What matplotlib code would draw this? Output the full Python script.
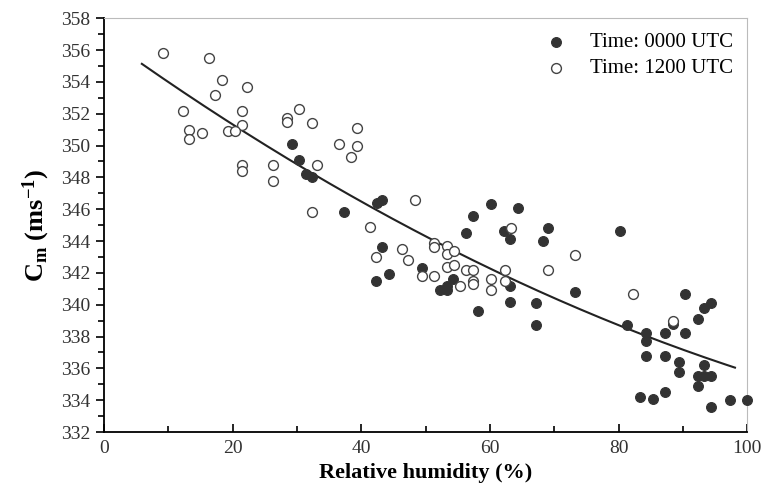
import matplotlib
matplotlib.use("Agg")
import matplotlib.pyplot as plt
import numpy as np

# 0000 UTC (filled)
rh_00 = [29.3, 30.4, 31.4, 32.4, 42.4, 43.3, 37.4, 57.3, 60.2, 64.3, 56.3, 62.2, 63.2, 69.0,
         68.2, 43.3, 49.4, 44.3, 42.3, 52.3, 53.3, 53.3, 54.3, 63.2, 63.2, 67.2, 58.2, 67.2,
         80.2, 73.3, 90.4, 94.3, 93.3, 92.4, 88.4, 81.3, 84.3, 84.3, 87.3, 90.3, 84.3, 87.3,
         89.4, 89.4, 93.3, 92.3, 93.3, 94.3, 92.3, 83.3, 85.3, 87.3, 94.3, 97.4, 100.0]
cm_00 = [350.1, 349.1, 348.2, 348.0, 346.4, 346.6, 345.8, 345.6, 346.3, 346.1, 344.5, 344.6,
         344.1, 344.8, 344.0, 343.6, 342.3, 341.9, 341.5, 340.9, 340.9, 341.2, 341.6, 341.2,
         340.2, 340.1, 339.6, 338.7, 344.6, 340.8, 340.7, 340.1, 339.8, 339.1, 338.8, 338.7,
         338.2, 337.7, 338.2, 338.2, 336.8, 336.8, 336.4, 335.8, 336.2, 335.5, 335.5, 335.5,
         334.9, 334.2, 334.1, 334.5, 333.6, 334.0, 334.0]

# 1200 UTC (open)
rh_12 = [9.2, 16.3, 18.4, 22.3, 17.3, 12.3, 21.4, 30.4, 28.4, 28.4, 32.4, 21.4, 13.2, 13.2,
         15.3, 19.3, 20.4, 21.4, 21.4, 26.3, 26.3, 33.2, 32.4, 38.4, 36.5, 39.3, 39.3, 48.3,
         41.3, 63.3, 73.3, 46.3, 42.3, 47.3, 51.3, 51.3, 53.3, 53.3, 54.4, 53.3, 54.4, 56.3,
         57.3, 62.3, 69.0, 49.4, 51.3, 55.3, 57.3, 57.3, 60.2, 60.2, 62.3, 82.3, 88.4]
cm_12 = [355.8, 355.5, 354.1, 353.7, 353.2, 352.2, 352.2, 352.3, 351.7, 351.5, 351.4, 351.3,
         351.0, 350.4, 350.8, 350.9, 350.9, 348.8, 348.4, 348.8, 347.8, 348.8, 345.8, 349.3,
         350.1, 351.1, 350.0, 346.6, 344.9, 344.8, 343.1, 343.5, 343.0, 342.8, 343.9, 343.6,
         343.7, 343.2, 343.4, 342.4, 342.5, 342.2, 342.2, 342.2, 342.2, 341.8, 341.8, 341.2,
         341.5, 341.3, 341.6, 340.9, 341.5, 340.7, 339.0]

plt.rcParams['font.family'] = ['Liberation Serif', 'DejaVu Serif']
plt.rcParams['mathtext.fontset'] = 'custom'
plt.rcParams['mathtext.rm'] = 'Liberation Serif'
plt.rcParams['mathtext.bf'] = 'Liberation Serif:bold'

fig = plt.figure(figsize=(7.64, 4.91), dpi=100)
ax = fig.add_axes([0.136, 0.120, 0.842, 0.843])

ax.scatter(rh_00, cm_00, s=50, c='#333333', edgecolors='#333333', linewidths=0.8,
           label='Time: 0000 UTC', zorder=3, clip_on=False)
ax.scatter(rh_12, cm_12, s=50, facecolors='white', edgecolors='#444444', linewidths=1.0,
           label='Time: 1200 UTC', zorder=3)

# quadratic fit over all points
x_all = np.array(rh_00 + rh_12)
y_all = np.array(cm_00 + cm_12)
coef = np.polyfit(x_all, y_all, 2)
xf = np.linspace(5.9, 98.1, 200)
ax.plot(xf, np.polyval(coef, xf), color='#222222', lw=1.5, zorder=2)

ax.set_xlim(0, 100)
ax.set_ylim(332, 358)
ax.set_xticks(np.arange(0, 101, 20))
ax.set_xticks(np.arange(0, 101, 10), minor=True)
ax.set_yticks(np.arange(332, 359, 2))
ax.set_yticks(np.arange(332, 359, 1), minor=True)
ax.tick_params(axis='x', which='both', direction='in', labelsize=14, width=1.2,
               labelcolor='#333333')
ax.tick_params(axis='x', which='major', length=6, pad=6)
ax.tick_params(axis='x', which='minor', length=4)
ax.tick_params(axis='y', which='both', direction='out', labelsize=14, width=1.2,
               labelcolor='#333333')
ax.tick_params(axis='y', which='major', length=6, pad=4)
ax.tick_params(axis='y', which='minor', length=4)

for s in ['left', 'bottom']:
    ax.spines[s].set_linewidth(1.3)
for s in ['top', 'right']:
    ax.spines[s].set_color('#bbbbbb')
    ax.spines[s].set_linewidth(0.8)

ax.set_xlabel('Relative humidity (%)', fontsize=16, fontweight='bold', labelpad=4)
ax.set_ylabel(r'$\mathbf{C_m}$ $\mathbf{(ms^{-1})}$', fontsize=19, labelpad=6)

ax.legend(loc='upper right', frameon=False, fontsize=15, handletextpad=0.6,
          borderaxespad=0.3, labelspacing=0.3, markerscale=1.0)

fig.savefig('out.png', dpi=100)
